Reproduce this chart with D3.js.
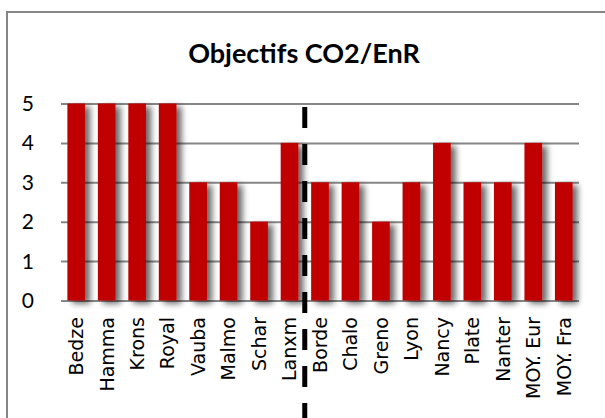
<!DOCTYPE html>
<html>
<head>
<meta charset="utf-8">
<script src="https://cdn.jsdelivr.net/npm/d3@7"></script>
<style>
	body { margin: 0; background: #fff; }
	svg { display: block; }
</style>
</head>
<body>
<div id="chart"></div>
<script>
// Data
const cities = ["Bedze", "Hamma", "Krons", "Royal", "Vauba", "Malmo", "Schar", "Lanxm",
	"Borde", "Chalo", "Greno", "Lyon", "Nancy", "Plate", "Nanter", "MOY. Eur", "MOY. Fra"];
const scores = [5, 5, 5, 5, 3, 3, 2, 4, 3, 3, 2, 3, 4, 3, 3, 4, 3];
const yTicks = [0, 1, 2, 3, 4, 5];
const splitAfter = "Lanxm";
const title = "Objectifs CO2/EnR";

const W = 605, H = 418;
const plot = { left: 61, right: 579, top: 103.5, bottom: 300.5 };

const svg = d3.select("#chart").append("svg")
	.attr("width", W)
	.attr("height", H);

// bar shadow
const defs = svg.append("defs");
const f = defs.append("filter").attr("id", "shadow")
	.attr("x", "-30%").attr("y", "-10%").attr("width", "200%").attr("height", "130%");
f.append("feGaussianBlur").attr("in", "SourceAlpha").attr("stdDeviation", 3).attr("result", "blur");
f.append("feOffset").attr("in", "blur").attr("dx", 5).attr("dy", 3).attr("result", "off");
f.append("feComponentTransfer").attr("in", "off").attr("result", "soft")
	.append("feFuncA").attr("type", "linear").attr("slope", 0.6);
const merge = f.append("feMerge");
merge.append("feMergeNode").attr("in", "soft");
merge.append("feMergeNode").attr("in", "SourceGraphic");

// chart border (runs off the right and bottom edges)
svg.append("rect")
	.attr("x", 7).attr("y", 12)
	.attr("width", 640).attr("height", 440)
	.attr("fill", "none")
	.attr("stroke", "#868686")
	.attr("stroke-width", 2);

svg.append("text")
	.attr("x", 304)
	.attr("y", 63)
	.attr("text-anchor", "middle")
	.style("font-family", "Lato, 'Open Sans', sans-serif")
	.style("font-weight", "bold")
	.style("font-size", "27px")
	.text(title);

// Scales
const x = d3.scaleBand()
	.domain(cities)
	.range([plot.left, plot.right])
	.paddingInner(0.42)
	.paddingOuter(0.21);

const y = d3.scaleLinear()
	.domain([0, 5])
	.range([plot.bottom, plot.top]);

// grid
svg.append("g")
	.attr("transform", `translate(${plot.left},0)`)
	.call(d3.axisLeft(y).tickValues(yTicks).tickSize(-(plot.right - plot.left)).tickFormat(""))
	.call((g) => g.select(".domain").remove())
	.call((g) => g.selectAll("line").attr("stroke", "#868686").attr("stroke-width", 2));

// y labels
svg.append("g")
	.selectAll("text")
	.data(yTicks)
	.enter()
	.append("text")
	.attr("x", 34)
	.attr("y", (d) => y(d))
	.attr("dy", "0.36em")
	.attr("text-anchor", "end")
	.style("font-family", "Lato, sans-serif")
	.style("font-size", "21px")
	.text((d) => d);

// bars
svg.append("g")
	.selectAll("rect")
	.data(cities)
	.enter()
	.append("rect")
	.attr("x", (d) => x(d))
	.attr("y", (d, i) => y(scores[i]))
	.attr("width", x.bandwidth())
	.attr("height", (d, i) => y(0) - y(scores[i]))
	.attr("fill", "#C00000")
	.attr("filter", "url(#shadow)");

// category labels
svg.append("g")
	.selectAll("text")
	.data(cities)
	.enter()
	.append("text")
	.attr("transform", (d) => `translate(${x(d) + x.bandwidth() / 2},317) rotate(-90)`)
	.attr("dy", "0.36em")
	.attr("text-anchor", "end")
	.style("font-family", "'DejaVu Sans', sans-serif")
	.style("font-size", "19px")
	.text((d) => d);

// dashed separator
const next = cities[cities.indexOf(splitAfter) + 1];
const sepX = (x(splitAfter) + x.bandwidth() + x(next)) / 2;
svg.append("line")
	.attr("x1", sepX).attr("x2", sepX)
	.attr("y1", 107).attr("y2", H + 10)
	.attr("stroke", "#000")
	.attr("stroke-width", 5)
	.attr("stroke-dasharray", "21,16");
</script>
</body>
</html>
